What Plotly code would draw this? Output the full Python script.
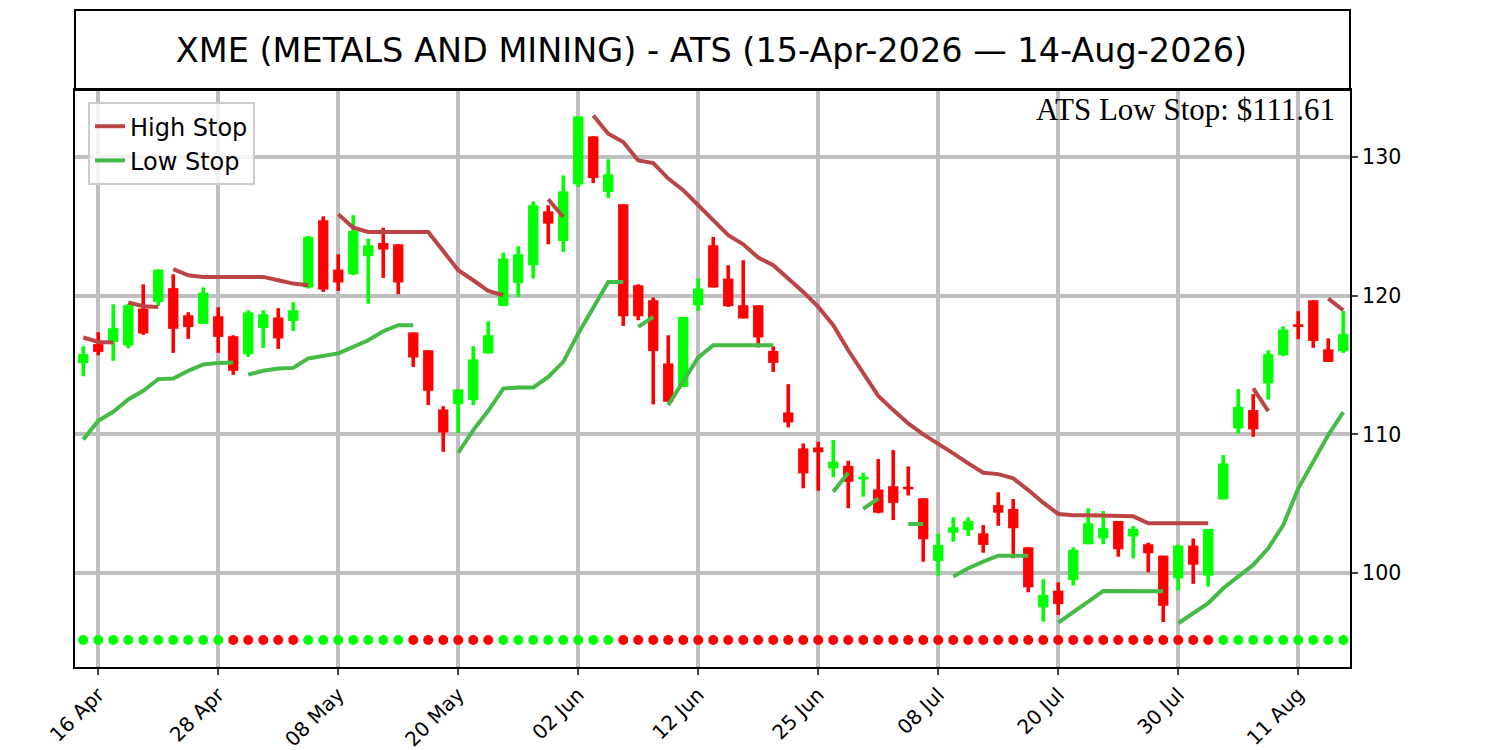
import pandas as pd
import plotly.graph_objects as go

# 取引日（NYSE休場日を除く）
START = "2026-04-15"
END = "2026-08-14"
HOLIDAYS = ["2026-05-25", "2026-06-19", "2026-07-03"]

OPEN = [115.13, 116.50, 116.66, 116.40, 119.06, 119.54, 120.53, 118.58, 117.96, 118.51,
        117.07, 115.78, 117.67, 118.42, 118.17, 120.58, 125.42, 121.87, 121.53, 122.83,
        123.78, 123.69, 117.34, 116.06, 111.80, 112.18, 112.47, 115.83, 119.25, 120.90,
        122.18, 126.06, 123.93, 128.00, 131.46, 127.46, 126.57, 120.74, 119.66, 115.11,
        113.42, 119.30, 123.62, 121.22, 119.30, 119.30, 116.01, 111.58, 108.99, 109.06,
        107.55, 107.74, 106.76, 106.04, 106.27, 106.22, 105.40, 100.88, 102.92, 103.11,
        102.88, 104.91, 104.63, 101.87, 97.55, 98.75, 99.52, 102.09, 102.52, 103.76,
        102.65, 102.09, 101.27, 99.64, 101.99, 99.83, 105.32, 110.43, 111.75, 113.67,
        115.70, 117.93, 119.66, 116.12, 115.99]
HIGH = [116.35, 117.36, 119.37, 119.40, 120.80, 121.87, 121.53, 118.80, 120.58, 119.16,
        117.14, 118.94, 118.94, 119.09, 119.52, 124.30, 125.70, 122.97, 125.78, 124.10,
        124.89, 123.69, 117.34, 116.06, 112.03, 113.24, 116.35, 118.15, 123.09, 123.55,
        126.78, 126.50, 128.65, 132.90, 131.46, 129.81, 126.57, 120.81, 119.86, 117.14,
        118.46, 121.22, 124.22, 122.18, 122.54, 119.30, 116.35, 113.62, 109.35, 109.47,
        109.59, 108.10, 107.24, 108.22, 108.87, 107.70, 105.40, 102.83, 104.03, 104.03,
        103.47, 105.83, 105.35, 101.87, 99.57, 99.35, 101.87, 104.68, 104.48, 103.76,
        103.40, 102.20, 101.27, 102.05, 102.50, 103.19, 108.51, 113.26, 112.90, 116.06,
        117.79, 118.87, 119.66, 116.91, 118.89]
LOW = [114.19, 115.70, 115.30, 116.20, 117.17, 119.25, 115.87, 116.88, 117.96, 115.87,
       114.29, 115.58, 116.23, 116.16, 117.45, 120.50, 120.26, 120.33, 121.46, 119.42,
       121.27, 120.10, 114.86, 112.11, 108.75, 110.10, 112.11, 115.83, 119.25, 119.90,
       121.22, 123.69, 123.14, 127.81, 128.10, 127.02, 117.81, 118.22, 112.16, 112.35,
       113.42, 118.89, 120.58, 119.18, 118.35, 116.26, 114.50, 110.50, 106.12, 105.94,
       106.91, 104.68, 105.51, 104.32, 103.83, 105.60, 100.83, 99.83, 102.27, 102.68,
       101.48, 103.42, 101.08, 98.63, 96.52, 97.00, 99.11, 102.09, 102.09, 101.19,
       101.08, 100.07, 96.49, 98.76, 99.24, 99.03, 105.32, 110.07, 109.83, 112.52,
       115.63, 116.86, 116.23, 115.22, 115.87]
CLOSE = [115.78, 115.94, 117.65, 119.30, 117.27, 121.87, 117.60, 117.74, 120.20, 117.02,
         114.58, 118.78, 118.65, 116.91, 118.94, 124.22, 120.43, 120.94, 124.65, 123.62,
         123.31, 120.94, 115.54, 113.14, 110.14, 113.24, 115.40, 117.14, 122.66, 122.97,
         126.50, 125.18, 127.50, 132.90, 128.46, 128.73, 118.51, 118.51, 116.01, 112.35,
         118.46, 120.50, 120.58, 119.23, 118.35, 116.98, 115.15, 110.86, 107.19, 108.71,
         108.03, 106.59, 106.95, 104.36, 105.07, 106.04, 102.45, 102.04, 103.31, 103.76,
         102.04, 104.36, 103.24, 98.99, 98.44, 97.79, 101.68, 103.60, 103.24, 101.73,
         103.19, 101.44, 97.66, 101.99, 100.62, 103.19, 107.91, 111.99, 110.36, 115.78,
         117.55, 117.79, 116.73, 115.22, 117.22]

# ストップライン（開始インデックス, 値）
HIGH_STOP = [
    (0, [116.98, 116.66, 116.62]),
    (3, [119.50, 119.23, 119.18]),
    (6, [121.90, 121.46, 121.34, 121.34, 121.34, 121.34, 121.34, 121.10, 120.86, 120.74]),
    (17, [125.85, 124.89, 124.58, 124.58, 124.58, 124.58, 124.58, 123.20, 121.82, 121.10,
          120.33, 120.02]),
    (31, [126.93, 125.65]),
    (34, [132.97, 131.65, 131.05, 129.73, 129.54, 128.42, 127.58, 126.50, 125.42, 124.34,
          123.69, 122.73, 122.18, 121.22, 120.26, 119.18, 117.86, 116.06, 114.38, 112.77,
          111.75, 110.79, 110.00, 109.35, 108.63, 107.91, 107.24, 107.14, 106.83, 105.99,
          105.08, 104.27, 104.17, 104.17, 104.17, 104.17, 104.10, 103.60, 103.60, 103.60,
          103.60, 103.60]),
    (78, [113.31, 111.68]),
    (83, [119.78, 118.94]),
]
LOW_STOP = [
    (0, [109.64, 110.98, 111.63, 112.52, 113.14, 113.98, 114.03, 114.58, 115.04, 115.15,
         115.18]),
    (11, [114.30, 114.58, 114.75, 114.79, 115.47, 115.65, 115.83, 116.30, 116.78, 117.43,
          117.86, 117.86]),
    (25, [108.68, 110.31, 111.70, 113.30, 113.38, 113.38, 114.14, 115.22, 117.27, 119.18,
          120.98, 120.98]),
    (37, [117.74, 118.46]),
    (39, [112.11, 113.78, 115.54, 116.42, 116.42, 116.42, 116.42, 116.42]),
    (50, [105.87, 107.24]),
    (52, [104.63, 105.40]),
    (55, [103.55, 103.55]),
    (58, [99.76, 100.36, 100.84, 101.27, 101.27, 101.27]),
    (65, [96.45, 97.17, 97.96, 98.73, 98.73, 98.73, 98.70, 98.70]),
    (73, [96.40, 97.12, 97.84, 98.92, 99.76, 100.60, 101.80, 103.47, 106.12, 108.03,
          109.95, 111.61]),
]

# トレンド状態（1=上昇, -1=下降）
TREND = ([1] * 10 + [-1] * 5 + [1] * 7 + [-1] * 6 + [1] * 8 + [-1] * 40 + [1] * 9)

TITLE = "XME (METALS AND MINING) - ATS (15-Apr-2026 \u2014 14-Aug-2026)"

UP = "#00ff00"
DOWN = "#ff0000"
HIGH_COLOR = "#bb4444"
LOW_COLOR = "#44bb44"
DOT_LEVEL = 95.2
GRID = "#bfbfbf"

dates = pd.bdate_range(START, END, freq="C", holidays=HOLIDAYS)
x = [d.strftime("%Y-%m-%d") for d in dates]
tick_vals = x[1::8]
tick_text = [d.strftime("%d %b") for d in dates[1::8]]


def segments_xy(segs):
    xs, ys = [], []
    for start, vals in segs:
        for k, v in enumerate(vals):
            xs.append(x[start + k])
            ys.append(v)
        xs.append(None)
        ys.append(None)
    return xs, ys


candle_colors = [UP if c >= o else DOWN for o, c in zip(OPEN, CLOSE)]

fig = go.Figure()

# ヒゲ
fig.add_trace(go.Bar(
    x=x, y=[h - l for h, l in zip(HIGH, LOW)], base=LOW, width=0.24,
    marker=dict(color=candle_colors, line=dict(width=0)), showlegend=False, hoverinfo="skip",
))
# 実体
fig.add_trace(go.Bar(
    x=x, y=[abs(c - o) for o, c in zip(OPEN, CLOSE)], base=[min(o, c) for o, c in zip(OPEN, CLOSE)],
    width=0.69, marker=dict(color=candle_colors, line=dict(width=0)), showlegend=False,
))

hx, hy = segments_xy(HIGH_STOP)
fig.add_trace(go.Scatter(x=hx, y=hy, mode="lines", name="High Stop",
                         line=dict(color=HIGH_COLOR, width=4), connectgaps=False))
lx, ly = segments_xy(LOW_STOP)
fig.add_trace(go.Scatter(x=lx, y=ly, mode="lines", name="Low Stop",
                         line=dict(color=LOW_COLOR, width=4), connectgaps=False))

fig.add_trace(go.Scatter(
    x=x, y=[DOT_LEVEL] * len(x), mode="markers", showlegend=False,
    marker=dict(size=10, color=[UP if t > 0 else DOWN for t in TREND]),
))

# ページ余白(8px)ぶんを差し引いたマージン
fig.update_layout(
    width=1500, height=750,
    margin=dict(l=67, r=158, t=82, b=91, autoexpand=False),
    plot_bgcolor="white", paper_bgcolor="white",
    barmode="overlay",
    font=dict(family="DejaVu Sans", color="black"),
    title=dict(text=TITLE, x=0.469, xanchor="center", y=1 - 42 / 750, yanchor="middle",
               font=dict(size=33.5, family="DejaVu Sans", color="black")),
    legend=dict(x=0.0102, y=0.979, xanchor="left", yanchor="top",
                font=dict(size=24), bgcolor="rgba(255,255,255,0.8)",
                bordercolor="#cccccc", borderwidth=2, itemwidth=30, tracegroupgap=0),
    xaxis=dict(type="category", range=[-0.55, 84.45], tickvals=tick_vals, ticktext=tick_text,
               tickangle=-45, tickfont=dict(size=20), ticks="outside", ticklen=6, tickwidth=2,
               showgrid=True, gridcolor=GRID, gridwidth=4, automargin=False,
               showline=True, linecolor="black", linewidth=2, mirror=True),
    yaxis=dict(side="right", range=[93.25, 134.8], tickvals=[100, 110, 120, 130],
               tickfont=dict(size=20.5), ticks="outside", ticklen=6, tickwidth=2,
               showgrid=True, gridcolor=GRID, gridwidth=4, zeroline=False, automargin=False,
               showline=True, linecolor="black", linewidth=2, mirror=True),
    shapes=[dict(type="rect", xref="paper", yref="paper", x0=0, x1=1, y0=1, y1=1 + 80 / 577,
                 line=dict(color="black", width=2), fillcolor="rgba(0,0,0,0)")],
    annotations=[dict(text="ATS Low Stop: $111.61", xref="paper", yref="paper",
                      x=0.99, y=(667 - 109) / 577, xanchor="right", yanchor="middle",
                      showarrow=False, font=dict(size=31, family="Liberation Serif", color="black"))],
)

fig.write_html("out.html")
